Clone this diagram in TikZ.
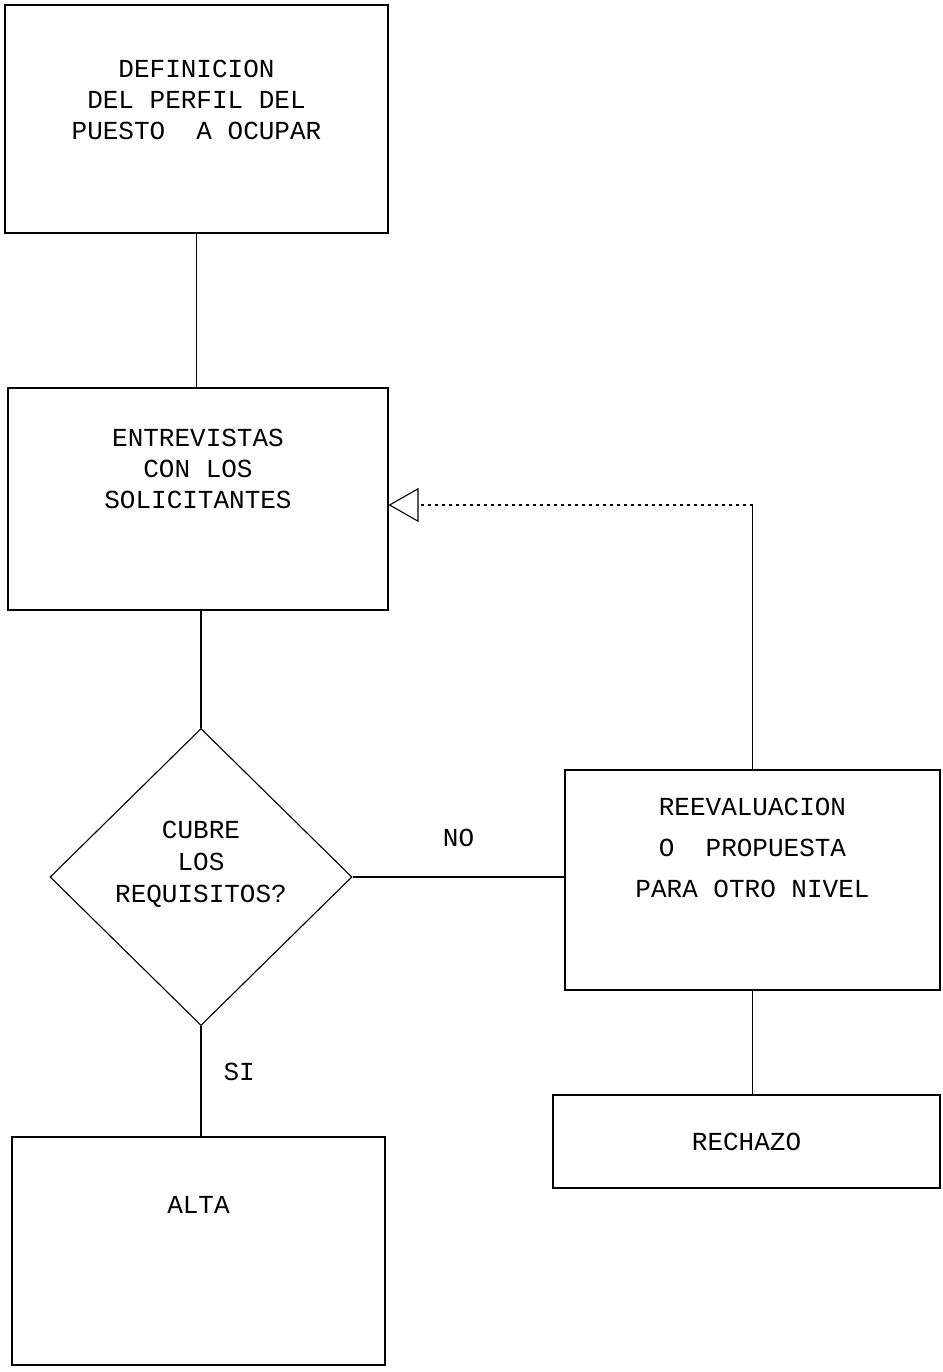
\documentclass[tikz,border=0pt]{standalone}
\usepackage{fontspec}
\newfontfamily\typewriter{Liberation Mono}
\usetikzlibrary{arrows.meta,shapes.geometric}

\begin{document}
\begin{tikzpicture}[x=1pt, y=-1pt, line width=1.1pt,
  font=\typewriter\fontsize{26}{31}\selectfont,
  box/.style={draw, rectangle, inner sep=0pt, align=center},
  decide/.style={draw, diamond, inner sep=0pt, align=center, minimum width=302pt, minimum height=297pt},
  arr/.style={-{Triangle[open, length=30pt, width=34pt, line width=1.1pt]}}]
\useasboundingbox (0,0) rectangle (942,1372);
% cajas del proceso
\node[box, minimum width=383pt, minimum height=228pt, text depth=39pt] (perfil) at (196.5,119) {DEFINICION\\DEL PERFIL DEL\\PUESTO~~A OCUPAR};
\node[box, minimum width=380pt, minimum height=222pt, text depth=61pt] (entre) at (198,499) {ENTREVISTAS\\CON LOS\\SOLICITANTES};
\node[decide, text depth=31pt, font=\typewriter\fontsize{26}{32}\selectfont] (cubre) at (201,877) {CUBRE\\LOS\\REQUISITOS?};
\node[box, minimum width=375pt, minimum height=220pt, text depth=65pt, font=\typewriter\fontsize{26}{41}\selectfont] (reeval) at (752.5,880) {REEVALUACION\\O~~PROPUESTA\\PARA OTRO NIVEL};
\node[box, minimum width=387pt, minimum height=93pt] (rechazo) at (746.5,1141.5) {RECHAZO};
\node[box, minimum width=373pt, minimum height=228pt, text depth=93pt] (alta) at (198.5,1251) {ALTA};
% conectores
\draw (perfil.south) -- (perfil.south |- entre.north);
\draw (cubre.north |- entre.south) -- (cubre.north);
\draw (cubre.east) -- node[above=30pt, inner sep=0pt] (no) {NO} (cubre.east -| reeval.west);
\draw (cubre.south) -- node[right=22pt, pos=0.42, inner sep=0pt] (si) {SI} (cubre.south |- alta.north);
\draw (reeval.south) -- (reeval.south |- rechazo.north);
\coordinate (turn) at (reeval.north |- 0,505);
\draw (reeval.north) -- (turn);
\draw[arr, dash pattern=on 3pt off 4pt] (turn) -- (entre.east |- turn);
\end{tikzpicture}
\end{document}
